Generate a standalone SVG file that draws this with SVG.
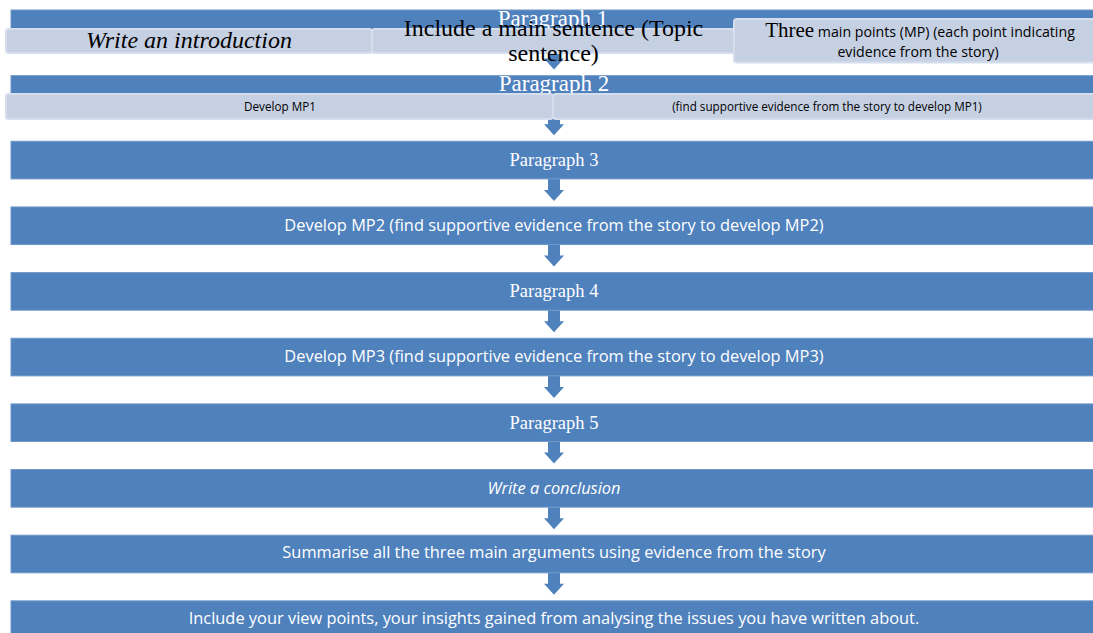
<svg xmlns="http://www.w3.org/2000/svg" width="1093" height="633" viewBox="0 0 1093 633">
<style>
.bar{fill:#4f81bd;stroke:#6f97c8;stroke-width:1}
.lb{fill:#c6d0e3;stroke:#d6dded;stroke-width:2}
.arr{fill:#4f81bd}
.tp{font-family:"Liberation Serif","Times New Roman",serif;fill:#fff;text-anchor:middle}
.ts{font-family:"Open Sans","Noto Sans",sans-serif;fill:#fff;text-anchor:middle;font-size:16.4px}
.tb{font-family:"Liberation Serif","Times New Roman",serif;fill:#000;text-anchor:middle}
.tk{font-family:"Open Sans","Noto Sans",sans-serif;fill:#000;text-anchor:middle}
</style>
<rect width="1093" height="633" fill="#fff"/>
<g id="connectors">
<path class="arr" d="M548,47.6 h12 v11 h4 l-10,11 l-10,-11 h4 z"/>
<path class="arr" d="M548,113.3 h12 v11 h4 l-10,11 l-10,-11 h4 z"/>
<path class="arr" d="M548,178.9 h12 v11 h4 l-10,11 l-10,-11 h4 z"/>
<path class="arr" d="M548,244.6 h12 v11 h4 l-10,11 l-10,-11 h4 z"/>
<path class="arr" d="M548,310.2 h12 v11 h4 l-10,11 l-10,-11 h4 z"/>
<path class="arr" d="M548,375.9 h12 v11 h4 l-10,11 l-10,-11 h4 z"/>
<path class="arr" d="M548,441.5 h12 v11 h4 l-10,11 l-10,-11 h4 z"/>
<path class="arr" d="M548,507.2 h12 v11 h4 l-10,11 l-10,-11 h4 z"/>
<path class="arr" d="M548,572.8 h12 v11 h4 l-10,11 l-10,-11 h4 z"/>
</g>
<g id="p1">
<rect class="bar" x="11" y="10" width="1090" height="37.6"/>
<text class="tp" x="553" y="26" font-size="23">Paragraph 1</text>
</g>
<g id="intro">
<rect class="lb" x="6" y="29" width="366" height="24" rx="3"/>
<text class="tb" x="189" y="47.5" font-size="24" font-style="italic">Write an introduction</text>
</g>
<g id="topic">
<rect class="lb" x="372" y="29" width="372" height="24" rx="3"/>
</g>
<g id="three">
<rect class="lb" x="734" y="19" width="372" height="43.5" rx="3"/>
<text class="tk" x="920" y="37" font-size="14.2"><tspan font-family="Liberation Serif, serif" font-size="21">Three</tspan> main points (MP) (each point indicating</text>
<text class="tk" x="918" y="57" font-size="14.2">evidence from the story)</text>
</g>
<g id="topic-text">
<text class="tb" x="553.5" y="36" font-size="24">Include a main sentence (Topic</text>
<text class="tb" x="553.5" y="61" font-size="24">sentence)</text>
</g>
<g id="p2">
<rect class="bar" x="11" y="75.65" width="1090" height="37.6"/>
<text class="tp" x="554" y="91" font-size="23">Paragraph 2</text>
</g>
<g id="mp1">
<rect class="lb" x="6" y="94" width="547" height="25" rx="3"/>
<text class="tk" x="280" y="111" font-size="11.7">Develop MP1</text>
</g>
<g id="mp1-evidence">
<rect class="lb" x="553" y="94" width="550" height="25" rx="3"/>
<text class="tk" x="827" y="111" font-size="11.7">(find supportive evidence from the story to develop MP1)</text>
</g>
<g id="p3">
<rect class="bar" x="11" y="141.3" width="1090" height="37.6"/>
<text class="tp" x="554" y="166" font-size="18.5">Paragraph 3</text>
</g>
<g id="mp2">
<rect class="bar" x="11" y="206.95" width="1090" height="37.6"/>
<text class="ts" x="554" y="231">Develop MP2 (find supportive evidence from the story to develop MP2)</text>
</g>
<g id="p4">
<rect class="bar" x="11" y="272.6" width="1090" height="37.6"/>
<text class="tp" x="554" y="297.3" font-size="18.5">Paragraph 4</text>
</g>
<g id="mp3">
<rect class="bar" x="11" y="338.25" width="1090" height="37.6"/>
<text class="ts" x="554" y="362.3">Develop MP3 (find supportive evidence from the story to develop MP3)</text>
</g>
<g id="p5">
<rect class="bar" x="11" y="403.9" width="1090" height="37.6"/>
<text class="tp" x="554" y="428.6" font-size="18.5">Paragraph 5</text>
</g>
<g id="conclusion">
<rect class="bar" x="11" y="469.55" width="1090" height="37.6"/>
<text class="ts" x="554" y="493.6" font-style="italic">Write a conclusion</text>
</g>
<g id="summarise">
<rect class="bar" x="11" y="535.2" width="1090" height="37.6"/>
<text class="ts" x="554" y="558.4">Summarise all the three main arguments using evidence from the story</text>
</g>
<g id="views">
<rect class="bar" x="11" y="600.85" width="1090" height="37.6"/>
<text class="ts" x="554" y="624">Include your view points, your insights gained from analysing the issues you have written about.</text>
</g>
</svg>
